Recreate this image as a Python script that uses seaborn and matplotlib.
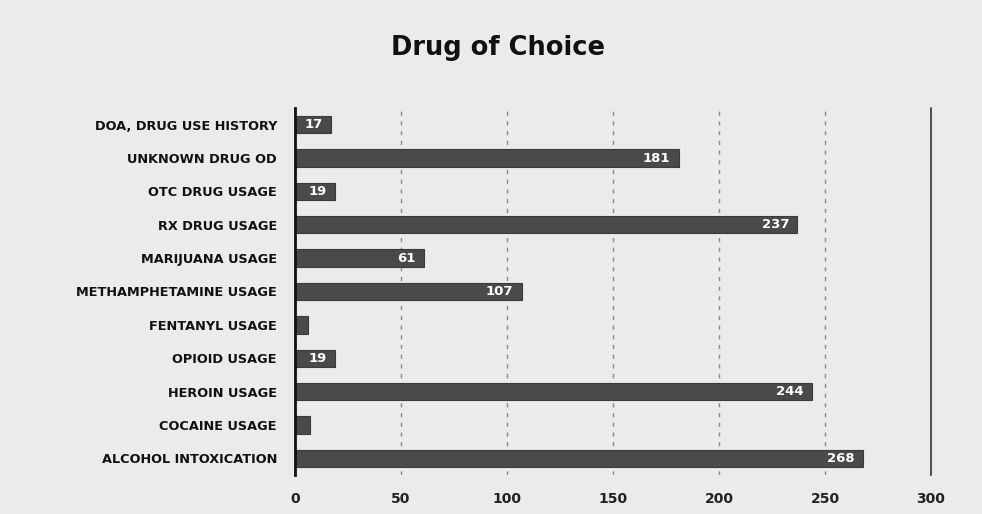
import matplotlib
matplotlib.use("Agg")
import matplotlib.pyplot as plt
import seaborn as sns
import pandas as pd

categories = ["DOA, DRUG USE HISTORY", "UNKNOWN DRUG OD", "OTC DRUG USAGE", "RX DRUG USAGE",
              "MARIJUANA USAGE", "METHAMPHETAMINE USAGE", "FENTANYL USAGE", "OPIOID USAGE",
              "HEROIN USAGE", "COCAINE USAGE", "ALCOHOL INTOXICATION"]
values = [17, 181, 19, 237, 61, 107, 6, 19, 244, 7, 268]
x_ticks = [0, 50, 100, 150, 200, 250, 300]

df = pd.DataFrame({"category": categories, "count": values})

sns.set_theme(style="white")
fam = ["DejaVu Sans"]
plt.rcParams["font.family"] = fam

bg = "#ebebeb"
fig = plt.figure(figsize=(9.82, 5.14), dpi=100, facecolor=bg)
ax = fig.add_axes([295/982, 1 - 475/514, (931-295)/982, (475-108)/514])
ax.set_facecolor(bg)

sns.barplot(data=df, x="count", y="category", color="#4a4a4a", width=0.52,
            saturation=1, ax=ax, zorder=3, edgecolor="#3a3a3a", linewidth=0.8)

ax.set_xlim(0, 300)
ax.set_xticks(x_ticks)
ax.set_xticklabels([str(t) for t in x_ticks], fontsize=10, fontweight="bold", color="#222222")
ax.set_ylim(len(categories) - 0.5, -0.5)
ax.tick_params(axis="y", labelsize=9.3, length=0, pad=13, labelcolor="#111111")
for lab in ax.get_yticklabels():
    lab.set_fontweight("bold")
ax.tick_params(axis="x", length=0, pad=12)
ax.set_xlabel("")
ax.set_ylabel("")

for t in x_ticks[1:-1]:
    ax.axvline(t, color="#8a8a8a", lw=1, ls=(0, (3, 4)), zorder=1)
ax.axvline(x_ticks[-1], color="#555555", lw=1.5, zorder=1, clip_on=False)

for s in ["top", "right", "bottom"]:
    ax.spines[s].set_visible(False)
ax.spines["left"].set_color("#111111")
ax.spines["left"].set_linewidth(2)
ax.spines["left"].set_zorder(5)

for i, v in enumerate(values):
    if v >= 10:
        ax.annotate(str(v), xy=(v, i), xytext=(-6, 0), textcoords="offset points",
                    ha="right", va="center", color="white", fontsize=9.5, fontweight="bold",
                    zorder=4)

fig.text(498/982, 1 - 48/514, "Drug of Choice", ha="center", va="center",
         fontsize=18.5, fontweight="bold", color="#111111", family=fam)

fig.savefig("out.png", dpi=100, facecolor=bg)
